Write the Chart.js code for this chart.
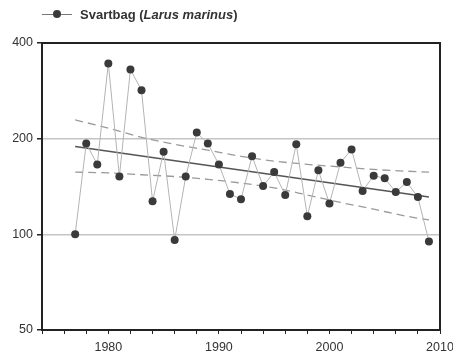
<!DOCTYPE html>
<html>
<head>
<meta charset="utf-8">
<script src="https://cdn.jsdelivr.net/npm/chart.js@4"></script>
<style>
  body{ margin:0; background:#fff; }
  #wrap{ position:relative; width:453px; height:360px; }
  #legend{ position:absolute; left:42px; top:6px; height:16px; display:flex; align-items:center;
    font-family:"Liberation Sans", Arial, sans-serif; font-size:13px; font-weight:bold; color:#333; }
  #legend .mark{ position:relative; width:30px; height:16px; margin-right:8px; }
  #legend .mark .ln{ position:absolute; left:0; right:0; top:8px; height:1px; background:#777; }
  #legend .mark .dot{ position:absolute; left:11px; top:4px; width:8px; height:8px; border-radius:50%; background:#3a3a3a; }
</style>
</head>
<body>
<div id="wrap">
  <canvas id="c"></canvas>
  <div id="legend"><span class="mark"><span class="ln"></span><span class="dot"></span></span><span>Svartbag (<i>Larus marinus</i>)</span></div>
</div>
<script>
// Counts per year
const years = [1977,1978,1979,1980,1981,1982,1983,1984,1985,1986,1987,1988,1989,1990,1991,1992,1993,
  1994,1995,1996,1997,1998,1999,2000,2001,2002,2003,2004,2005,2006,2007,2008,2009];
const counts = [100,193,166,345,152,330,284,127,182,96,152,209,193,166,134,129,176,
  142,157,133,192,114,159,125,168,185,137,153,150,136,146,131,95];

// Trend line end points
const trendYears = [1977, 2009];
const trendValues = [189, 131];

// Confidence band (dashed)
const bandYears = [1977,1980,1983,1986,1989,1992,1995,1998,2001,2004,2007,2009];
const upperBand = [229,216,202,192,184,176,170,166,163,160,158,157];
const lowerBand = [157,156,154,152,149,145,140,133,126,120,114,111];

const yTicks = [50, 100, 200, 400];
const xLabels = [1980, 1990, 2000, 2010];

function pts(xs, ys){
  return xs.map((x, i) => ({ x, y: ys[i] }));
}

// top + right frame of the plot area
const framePlugin = {
  id: "frame",
  afterDatasetsDraw(chart){
    const { ctx, chartArea: a } = chart;
    ctx.save();
    ctx.strokeStyle = "#222";
    ctx.lineWidth = 2;
    ctx.beginPath();
    ctx.moveTo(a.left, a.top);
    ctx.lineTo(a.right, a.top);
    ctx.lineTo(a.right, a.bottom);
    ctx.stroke();
    ctx.restore();
  }
};

const font = { family: "'Liberation Sans', Arial, sans-serif", size: 12.5 };

new Chart(document.getElementById("c"), {
  type: "line",
  data: {
    datasets: [
      {
        label: "Svartbag",
        data: pts(years, counts),
        borderColor: "#b4b4b4",
        borderWidth: 1,
        pointRadius: 4,
        pointBackgroundColor: "#3a3a3a",
        pointBorderColor: "#3a3a3a",
        pointBorderWidth: 0,
        tension: 0
      },
      {
        label: "trend",
        data: pts(trendYears, trendValues),
        borderColor: "#555",
        borderWidth: 1.6,
        pointRadius: 0
      },
      {
        label: "upper",
        data: pts(bandYears, upperBand),
        borderColor: "#9a9a9a",
        borderWidth: 1.3,
        borderDash: [8, 5],
        pointRadius: 0,
        cubicInterpolationMode: "monotone"
      },
      {
        label: "lower",
        data: pts(bandYears, lowerBand),
        borderColor: "#9a9a9a",
        borderWidth: 1.3,
        borderDash: [8, 5],
        pointRadius: 0,
        cubicInterpolationMode: "monotone"
      }
    ]
  },
  options: {
    responsive: true,
    maintainAspectRatio: false,
    animation: false,
    layout: { padding: { top: 43, right: 13, left: 0, bottom: 0 } },
    plugins: { legend: { display: false }, tooltip: { enabled: false } },
    scales: {
      x: {
        type: "linear",
        min: 1974,
        max: 2010,
        afterFit(scale){
          scale.height = 30;
          scale.paddingLeft = 0;
          scale.paddingRight = 0;
        },
        ticks: {
          stepSize: 2,
          autoSkip: false,
          maxRotation: 0,
          padding: 6,
          color: "#333",
          font,
          callback: v => xLabels.includes(v) ? String(v) : ""
        },
        grid: {
          drawOnChartArea: false,
          drawTicks: true,
          tickLength: 4,
          tickColor: "#222"
        },
        border: { display: true, color: "#222", width: 2 }
      },
      y: {
        type: "logarithmic",
        min: 50,
        max: 400,
        afterFit(scale){
          scale.width = 42;
          scale.paddingTop = 0;
          scale.paddingBottom = 0;
        },
        afterBuildTicks(scale){ scale.ticks = yTicks.map(v => ({ value: v })); },
        ticks: {
          padding: 4,
          color: "#333",
          font,
          callback: v => String(v)
        },
        grid: {
          color: ctx => (ctx.tick && (ctx.tick.value === 100 || ctx.tick.value === 200)) ? "#c4c4c4" : "rgba(0,0,0,0)",
          lineWidth: 1.5,
          tickLength: 5,
          tickColor: "#222"
        },
        border: { display: true, color: "#222", width: 2 }
      }
    }
  },
  plugins: [framePlugin]
});
</script>
</body>
</html>
